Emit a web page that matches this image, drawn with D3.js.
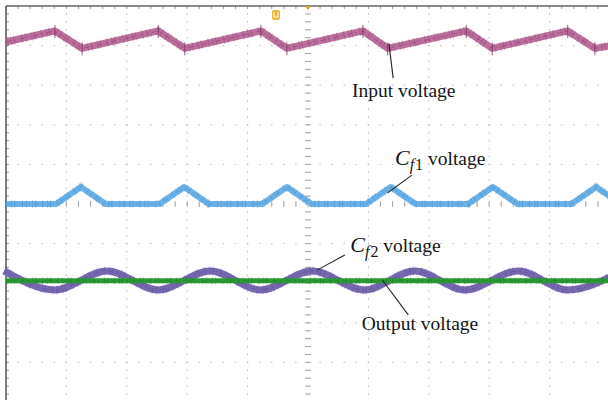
<!DOCTYPE html>
<head>
  <meta charset="utf-8">
  <script src="https://cdn.jsdelivr.net/npm/d3@7"></script>
  <style>
    body { margin: 0; background: #fff; }
    svg { display: block; }
    text { font-family: "Liberation Serif", "Times New Roman", serif; font-size: 19.5px; fill: #151515; }
  </style>
</head>
<body>
  <svg width="608" height="400"></svg>
  <script>
    // data, in scope divisions (x: -5..5, y: -5..5 around screen centre)
    var inputVoltage = [[-5.0, 4.09], [-4.19, 4.37], [-3.74, 3.93], [-2.48, 4.37], [-2.04, 3.93],
      [-0.78, 4.37], [-0.35, 3.93], [0.91, 4.37], [1.32, 3.93], [2.62, 4.37], [3.05, 3.93],
      [4.30, 4.37], [4.75, 3.93], [5.1, 4.02]];
    var cf1Voltage = [[-5.0, 0], [-4.17, 0], [-3.76, 0.43], [-3.35, 0], [-2.46, 0], [-2.05, 0.43],
      [-1.64, 0], [-0.76, 0], [-0.35, 0.43], [0.06, 0], [0.96, 0], [1.37, 0.43], [1.78, 0],
      [2.65, 0], [3.06, 0.43], [3.47, 0], [4.36, 0], [4.77, 0.43], [5.18, 0]];
    var cf2Voltage = [[-5.03, -1.69], [-4.19, -2.17], [-3.33, -1.69], [-2.48, -2.17], [-1.62, -1.69],
      [-0.78, -2.17], [0.07, -1.69], [0.93, -2.17], [1.77, -1.69], [2.60, -2.17], [3.48, -1.69],
      [4.30, -2.17], [5.19, -1.69]];
    var outputVoltage = [[-5.0, -1.94], [5.1, -1.94]];

    // labels: text, anchor, pointer line (all in divisions)
    var labels = [
      {main: "Input voltage", sub: null, x: 0.73, y: 2.71, line: [[1.34, 4.05], [1.41, 3.18]]},
      {main: "C", sub: "1", x: 1.44, y: 0.98, line: [[1.72, 0.73], [1.32, 0.28]]},
      {main: "C", sub: "2", x: 0.70, y: -1.20, line: [[0.61, -1.29], [0.15, -1.67]]},
      {main: "Output voltage", sub: null, x: 0.89, y: -3.18, line: [[1.66, -2.80], [1.23, -1.92]]}
    ];

    var svg = d3.select('svg');

    // scales
    var x = d3.scaleLinear().domain([-5, 5]).range([6, 610]);
    var y = d3.scaleLinear().domain([-5, 5]).range([402, 6]);
    var stepX = x(0.2) - x(0);
    var stepY = y(0) - y(0.2);

    // dotted grid
    var grid = svg.append('g');
    grid.selectAll('.vg')
      .data(d3.range(-4, 5.01, 1))
      .enter().append('line')
      .attr('x1', function(d){ return x(d); })
      .attr('x2', function(d){ return x(d); })
      .attr('y1', y(5)).attr('y2', 400)
      .attr('stroke', '#b8b8b8')
      .attr('stroke-dasharray', '1.5 ' + (stepY - 1.5))
      .attr('stroke-dashoffset', 0.75);
    grid.selectAll('.hg')
      .data(d3.range(-4, 4.01, 1))
      .enter().append('line')
      .attr('y1', function(d){ return y(d); })
      .attr('y2', function(d){ return y(d); })
      .attr('x1', x(-5)).attr('x2', 608)
      .attr('stroke', '#b8b8b8')
      .attr('stroke-dasharray', '1.5 ' + (stepX - 1.5))
      .attr('stroke-dashoffset', 0.75);

    // centre cross ticks
    var minor = d3.range(-5, 5.01, 0.2);
    grid.selectAll('.cy')
      .data(minor)
      .enter().append('line')
      .attr('x1', x(0) - 3).attr('x2', x(0) + 3)
      .attr('y1', function(d){ return y(d); })
      .attr('y2', function(d){ return y(d); })
      .attr('stroke', '#a8a8a8');
    grid.selectAll('.cx')
      .data(minor)
      .enter().append('line')
      .attr('y1', y(0) - 3).attr('y2', y(0) + 3)
      .attr('x1', function(d){ return x(d); })
      .attr('x2', function(d){ return x(d); })
      .attr('stroke', '#a8a8a8');

    // border ticks
    grid.selectAll('.ly')
      .data(minor)
      .enter().append('line')
      .attr('x1', x(-5)).attr('x2', x(-5) + 3)
      .attr('y1', function(d){ return y(d); })
      .attr('y2', function(d){ return y(d); })
      .attr('stroke', '#999');
    grid.selectAll('.tx')
      .data(minor)
      .enter().append('line')
      .attr('y1', y(5)).attr('y2', y(5) + 3)
      .attr('x1', function(d){ return x(d); })
      .attr('x2', function(d){ return x(d); })
      .attr('stroke', '#999');

    // border
    svg.append('line').attr('x1', x(-5)).attr('x2', 608).attr('y1', y(5)).attr('y2', y(5))
      .attr('stroke', '#666').attr('stroke-width', 1.5);
    svg.append('line').attr('x1', x(-5)).attr('x2', x(-5)).attr('y1', y(5)).attr('y2', 400)
      .attr('stroke', '#555').attr('stroke-width', 1.5);

    // trigger markers
    svg.append('path')
      .attr('d', 'M' + (x(0) - 3) + ',' + y(5) + 'L' + (x(0) + 3) + ',' + y(5) + 'L' + x(0) + ',' + (y(5) + 4) + 'Z')
      .attr('fill', '#e0a020');
    svg.append('rect').attr('x', 272).attr('y', 10).attr('width', 8).attr('height', 10).attr('rx', 2)
      .attr('fill', '#e8b83a');
    svg.append('path').attr('d', 'M274,12V17H278V12').attr('fill', 'none').attr('stroke', '#fff4d0').attr('stroke-width', 1.2);

    // traces
    var lineLinear = d3.line().x(function(d){ return x(d[0]); }).y(function(d){ return y(d[1]); });
    var lineSmooth = d3.line().x(function(d){ return x(d[0]); }).y(function(d){ return y(d[1]); })
      .curve(d3.curveMonotoneX);

    function trace(data, gen, color, dark, w) {
      var g = svg.append('g');
      g.append('path').attr('d', gen(data)).attr('fill', 'none')
        .attr('stroke', color).attr('stroke-width', w).attr('stroke-linejoin', 'round');
      g.append('path').attr('d', gen(data)).attr('fill', 'none')
        .attr('stroke', dark).attr('stroke-width', w + 2).attr('opacity', 0.3)
        .attr('stroke-dasharray', '1 4 1 2 1 7 1 3 1 5 1 2 1 6');
      g.append('path').attr('d', gen(data)).attr('fill', 'none')
        .attr('stroke', dark).attr('stroke-width', 1).attr('opacity', 0.45)
        .attr('stroke-dasharray', '5 3 2 4');
      return g;
    }

    var gIn = trace(inputVoltage, lineLinear, '#bc6e9c', '#7a3462', 7);
    gIn.selectAll('.spike')
      .data(inputVoltage.slice(1, -1))
      .enter().append('line')
      .attr('x1', function(d){ return x(d[0]); })
      .attr('x2', function(d){ return x(d[0]); })
      .attr('y1', function(d){ return y(d[1]) - 6; })
      .attr('y2', function(d){ return y(d[1]) + 7; })
      .attr('stroke', '#7a3462').attr('stroke-width', 1).attr('opacity', 0.8);
    trace(cf1Voltage, lineLinear, '#6cb2e8', '#3a86c8', 6);
    trace(cf2Voltage, lineSmooth, '#7868b0', '#56489a', 7);
    trace(outputVoltage, lineLinear, '#2a9a34', '#1c7a22', 5);

    // labels
    var lab = svg.append('g');
    labels.forEach(function(d) {
      lab.append('line')
        .attr('x1', x(d.line[0][0])).attr('y1', y(d.line[0][1]))
        .attr('x2', x(d.line[1][0])).attr('y2', y(d.line[1][1]))
        .attr('stroke', '#222').attr('stroke-width', 1.1);
      var t = lab.append('text').attr('x', x(d.x)).attr('y', y(d.y));
      if (d.sub) {
        t.append('tspan').attr('font-style', 'italic').attr('font-size', '22px').text(d.main);
        t.append('tspan').attr('font-style', 'italic').attr('font-size', '16px').attr('dy', 5).text('f');
        t.append('tspan').attr('font-size', '16px').attr('dx', 1).text(d.sub);
        t.append('tspan').attr('dy', -5).text(' voltage');
      } else {
        t.text(d.main);
      }
    });
  </script>
</body>
</html>
